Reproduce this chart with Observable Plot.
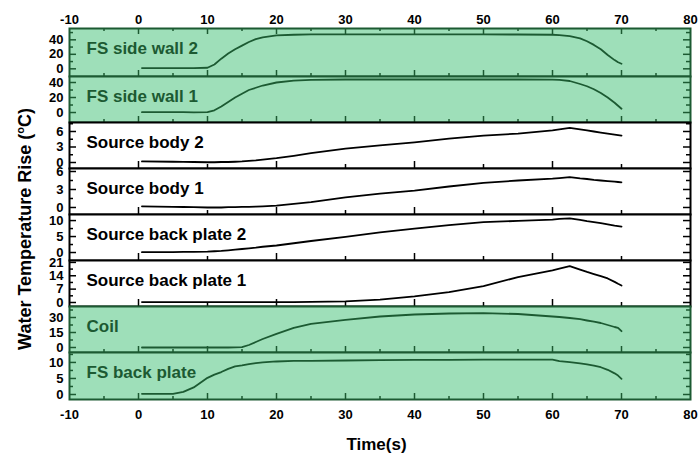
<!DOCTYPE html>
<html><head><meta charset="utf-8">
<script src="https://cdn.jsdelivr.net/npm/d3@7"></script>
<script src="https://cdn.jsdelivr.net/npm/@observablehq/plot@0.6"></script>
<style>
body{margin:0;background:#fff;}
#chart{position:relative;width:700px;height:460px;overflow:hidden;font-family:"Liberation Sans",Arial,sans-serif;font-weight:bold;}
#chart svg{position:absolute;left:0;}
.lab{position:absolute;font-family:"Liberation Sans",Arial,sans-serif;font-weight:bold;color:#000;white-space:nowrap;}
</style></head><body><div id="chart"></div>
<script>
// ---- data ----
const time = [0.5, 5, 6.5, 8, 10, 11, 12, 13, 14, 15, 16, 17, 18, 20, 22.5, 25, 30, 35, 40, 45, 50, 55, 60, 61, 62.5, 64, 65, 66, 67, 68, 69, 69.5, 70];
const panelNames = ["FS side wall 2", "FS side wall 1", "Source body 2", "Source body 1", "Source back plate 2", "Source back plate 1", "Coil", "FS back plate"];
const fsSideWall2 = [1, 1, 1, 1, 1.5, 6, 14, 21, 27, 32, 37, 41, 43.5, 46, 47, 47.5, 47.5, 47.5, 47.5, 47.5, 47.5, 47.3, 47, 46.5, 45, 42, 38, 33, 27, 19, 12, 9, 7];
const fsSideWall1 = [0.5, 0.5, 0.4, 0.3, 0.5, 3, 8, 14, 20, 25, 30, 33, 36, 40, 42.5, 43.5, 44, 44, 44, 44, 44, 44, 43.8, 43.5, 42, 38, 35, 31, 26, 20, 13, 9, 5];
const sourceBody2 = [0.2, 0.15, 0.12, 0.1, 0.05, 0.05, 0.1, 0.1, 0.15, 0.2, 0.3, 0.4, 0.55, 0.85, 1.3, 1.8, 2.7, 3.3, 3.9, 4.6, 5.2, 5.6, 6.2, 6.4, 6.7, 6.4, 6.2, 6.0, 5.8, 5.6, 5.4, 5.3, 5.2];
const sourceBody1 = [0.2, 0.1, 0.08, 0.05, 0, 0, 0, 0.05, 0.05, 0.1, 0.1, 0.15, 0.2, 0.3, 0.6, 0.9, 1.7, 2.3, 2.8, 3.5, 4.1, 4.5, 4.8, 4.9, 5.05, 4.85, 4.75, 4.6, 4.5, 4.4, 4.3, 4.25, 4.2];
const sourceBackPlate2 = [0.1, 0.15, 0.17, 0.2, 0.3, 0.4, 0.5, 0.7, 0.9, 1.1, 1.3, 1.5, 1.8, 2.2, 2.9, 3.6, 4.9, 6.3, 7.5, 8.6, 9.5, 9.9, 10.3, 10.5, 10.7, 10.2, 9.8, 9.5, 9.2, 8.8, 8.4, 8.25, 8.1];
const sourceBackPlate1 = [0.2, 0.2, 0.2, 0.2, 0.2, 0.2, 0.2, 0.2, 0.2, 0.2, 0.2, 0.2, 0.2, 0.2, 0.2, 0.3, 0.6, 1.5, 3.2, 5.4, 8.6, 13.3, 16.8, 17.7, 19.1, 17.2, 16, 14.9, 13.8, 12.6, 10.8, 9.8, 8.9];
const coil = [0, 0, 0, 0, 0, 0, 0, 0, 0.1, 0.3, 2.5, 5.5, 8.5, 13.7, 19.7, 23.7, 27.7, 31, 33, 34, 34.3, 33.5, 31, 30.5, 29.5, 28.3, 27, 25.8, 24.5, 22.5, 20.5, 19.7, 16.3];
const fsBackPlate = [0.2, 0.2, 0.8, 2.2, 5.2, 6.2, 7, 8, 8.75, 9.1, 9.5, 9.8, 10, 10.3, 10.5, 10.5, 10.6, 10.7, 10.8, 10.8, 10.9, 10.9, 10.9, 10.4, 10.1, 9.7, 9.4, 9.0, 8.5, 7.7, 6.6, 5.9, 4.9];
const panelValues = [fsSideWall2, fsSideWall1, sourceBody2, sourceBody1, sourceBackPlate2, sourceBackPlate1, coil, fsBackPlate];
const panelTicks = [[0, 20, 40], [0, 20, 40], [0, 3, 6], [0, 3, 6], [0, 5, 10], [0, 7, 14, 21], [0, 15, 30], [0, 5, 10]];
const panelMinorTicks = [[10, 30, 50], [10, 30], [1.5, 4.5, 7.5], [1.5, 4.5], [2.5, 7.5], [3.5, 10.5, 17.5], [7.5, 22.5, 37.5], [2.5, 7.5, 12.5]];
const panelGreen = [true, true, false, false, false, false, true, true];
const xTicks = [-10, 0, 10, 20, 30, 40, 50, 60, 70, 80];
const xMinorTicks = [-5, 5, 15, 25, 35, 45, 55, 65, 75];

// ---- layout / scale settings ----
const yDomains = [[-10.6, 55.6], [-13.3, 48], [-1.16, 7.74], [-1.17, 6.5], [-2.5, 11.9], [-2.1, 22], [-5, 41], [-1.56, 13.1]];
const edges = [28, 76, 122, 168, 214, 260, 306, 352, 399];
const W = 700, ML = 69, MR = 10;
const plotW = W - ML - MR;
const GREEN = "#9edfb9", DARK = "#1c5a32";
const fmt = d => String(d);
const chart = document.getElementById("chart");

panelNames.forEach((name, i) => {
  const first = i === 0, last = i === panelNames.length - 1;
  const mTop = first ? edges[0] : 0;
  const mBottom = last ? 61 : 0;
  const ph = edges[i + 1] - edges[i];
  const green = panelGreen[i];
  const ink = green ? DARK : "#000";
  const data = time.map((t, j) => ({t, v: panelValues[i][j]}));
  const xMaj = green ? xTicks.slice(1, -1) : [0, 20, 40, 60];
  const xMin = green ? xMinorTicks : [10, 30, 50, 70];
  const majLen = green ? 6 : 7, minLen = green ? 3 : 4;
  const marks = [
    Plot.frame({fill: green ? GREEN : "white"}),
    Plot.tickX(xMaj, {x: d => d, stroke: ink, strokeWidth: 1.5, insetTop: ph - majLen}),
    Plot.tickX(xMin, {x: d => d, stroke: ink, strokeWidth: 1.5, insetTop: ph - minLen}),
    Plot.tickY(panelTicks[i], {y: d => d, stroke: ink, strokeWidth: 1.5, insetRight: plotW - 7}),
    Plot.tickY(panelMinorTicks[i], {y: d => d, stroke: ink, strokeWidth: 1.5, insetRight: plotW - 4}),
    Plot.tickY(panelTicks[i], {y: d => d, stroke: ink, strokeWidth: 1.5, insetLeft: plotW - 7}),
    Plot.tickY(panelMinorTicks[i], {y: d => d, stroke: ink, strokeWidth: 1.5, insetLeft: plotW - 4}),
    Plot.line(data, {x: "t", y: "v", stroke: ink, strokeWidth: 1.8}),
    Plot.text([name], {text: d => d, frameAnchor: "top-left", dx: 17, dy: 20, lineAnchor: "middle", textAnchor: "start", fill: ink, fontSize: 17, fontWeight: "bold"}),
    Plot.axisY({ticks: panelTicks[i], tickFormat: fmt, tickSize: 0, tickPadding: 6, label: null, fill: "#000"}),
    Plot.frame({stroke: ink, strokeWidth: 2})
  ];
  if (first) {
    marks.push(Plot.tickX(xTicks.slice(1, -1), {x: d => d, stroke: ink, strokeWidth: 1.5, insetBottom: ph - 6}));
    marks.push(Plot.tickX(xMinorTicks, {x: d => d, stroke: ink, strokeWidth: 1.5, insetBottom: ph - 3}));
    marks.push(Plot.axisX({anchor: "top", ticks: xTicks, tickFormat: fmt, tickSize: 0, tickPadding: 5, label: null, fill: "#000"}));
  }
  if (last) {
    marks.push(Plot.axisX({anchor: "bottom", ticks: xTicks, tickFormat: fmt, tickSize: 0, tickPadding: 10, label: null, fill: "#000"}));
  }
  const svg = Plot.plot({
    width: W,
    height: ph + mTop + mBottom,
    marginLeft: ML, marginRight: MR, marginTop: mTop, marginBottom: mBottom,
    x: {domain: [-10, 80], axis: null},
    y: {domain: yDomains[i], axis: null},
    style: {fontFamily: "'Liberation Sans', Arial, sans-serif", fontSize: "13px", fontWeight: "bold", overflow: "visible", background: "transparent", color: "#000"},
    marks
  });
  svg.style.top = (edges[i] - mTop) + "px";
  chart.appendChild(svg);
});

const xl = document.createElement("div");
xl.className = "lab";
xl.textContent = "Time(s)";
xl.style.fontSize = "17px";
xl.style.left = (ML + plotW / 2 - 3) + "px";
xl.style.top = "445px";
xl.style.transform = "translate(-50%,-50%)";
chart.appendChild(xl);

const yl = document.createElement("div");
yl.className = "lab";
yl.innerHTML = "Water Temperature Rise (<sup style='font-size:11px'>o</sup>C)";
yl.style.fontSize = "18px";
yl.style.left = "25px";
yl.style.top = "229px";
yl.style.transform = "translate(-50%,-50%) rotate(-90deg)";
chart.appendChild(yl);
</script>
</body></html>
